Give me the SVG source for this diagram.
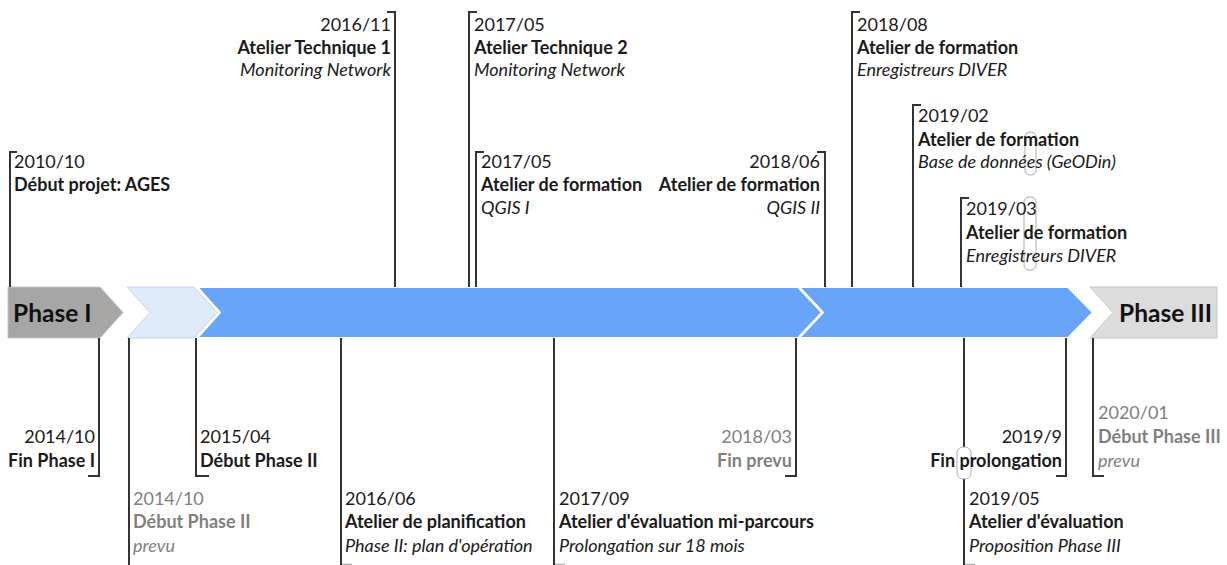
<svg xmlns="http://www.w3.org/2000/svg" width="1227" height="565" viewBox="0 0 1227 565">
<style>
text{font-family:Lato,"Open Sans","Liberation Sans",sans-serif;font-size:18px;fill:#1a1a1a}
.b{font-weight:bold}
.i{font-style:italic}
.g{fill:#7f7f7f}
.e{text-anchor:end}
.ph{font-weight:bold;font-size:24.5px;fill:#111}
.ln{fill:none;stroke:#333;stroke-width:2}
.tk{fill:none;stroke:#aaa;stroke-width:1.5}
.hop{fill:#fff;stroke:#999;stroke-width:0.8}
.hop2{fill:none;stroke:#999;stroke-width:0.8}
</style>
<rect width="1227" height="565" fill="#fff"/>
<g id="band">
<path id="phase1" d="M8,287 L100,287 L123,312.5 L100,338 L8,338 Z" fill="#a6a6a6" stroke="#c4c4c4" stroke-width="1"/>
<path id="phase2-prevu" d="M127,287 L194,287 L217,312.5 L194,338 L127,338 L150,312.5 Z" fill="#dfeafb" stroke="#c5d3ea" stroke-width="1"/>
<path id="phase2" d="M197,287 L798,287 L822,312.5 L798,338 L197,338 L220,312.5 Z" fill="#68a5f8" stroke="#fff" stroke-width="2"/>
<path id="prolongation" d="M799,287 L1068,287 L1093,312.5 L1068,338 L799,338 L823,312.5 Z" fill="#68a5f8" stroke="#fff" stroke-width="2"/>
<path id="phase3" d="M1090,287 L1217,287 L1217,338 L1090,338 L1113,312.5 Z" fill="#dcdcdc" stroke="#c6c6c6" stroke-width="1"/>
<text class="ph" x="13" y="322">Phase I</text>
<text class="ph e" x="1212" y="322">Phase III</text>
</g>
<g id="connectors">
<path class="ln" d="M10,287 V152 H17"/>
<path class="ln" d="M395,287 V12 H387"/>
<path class="ln" d="M469,287 V12 H477"/>
<path class="ln" d="M476,287 V152 H484"/>
<path class="ln" d="M825,287 V152 H817"/>
<path class="ln" d="M852,287 V12 H860"/>
<path class="ln" d="M913,287 V105 H921"/>
<path class="ln" d="M961,287 V198 H969"/>
<path class="ln" d="M99,338 V476 H88"/>
<path class="ln" d="M129,338 V566"/>
<path class="ln" d="M196,338 V476 H209"/>
<path class="ln" d="M341,338 V566"/>
<path class="ln" d="M554,338 V566"/>
<path class="ln" d="M796,338 V476 H785"/>
<path class="ln" d="M964,338 V566"/>
<path class="ln" d="M1066,338 V476 H1056"/>
<path class="ln" d="M1093,338 V476 H1104"/>
<path class="tk" d="M342,564.5 H352 M555,564.5 H565 M965,564.5 H975"/>
<rect class="hop" x="957" y="447" width="14" height="32" rx="6"/>
<rect class="hop2" x="1025" y="132" width="11" height="43" rx="5"/>
<rect class="hop2" x="1024" y="197" width="12" height="73" rx="5"/>
</g>
<g id="ev-2010-10"><text x="14" y="168">2010/10</text><text class="b" x="14" y="191">Début projet: AGES</text></g>
<g id="ev-2016-11"><text class="e" x="391" y="31">2016/11</text><text class="b e" x="391" y="54">Atelier Technique 1</text><text class="i e" x="391" y="76">Monitoring Network</text></g>
<g id="ev-2017-05a"><text x="474" y="31">2017/05</text><text class="b" x="474" y="54">Atelier Technique 2</text><text class="i" x="474" y="76">Monitoring Network</text></g>
<g id="ev-2017-05b"><text x="481" y="168">2017/05</text><text class="b" x="481" y="191">Atelier de formation</text><text class="i" x="481" y="214">QGIS I</text></g>
<g id="ev-2018-06"><text class="e" x="820" y="168">2018/06</text><text class="b e" x="820" y="191">Atelier de formation</text><text class="i e" x="820" y="214">QGIS II</text></g>
<g id="ev-2018-08"><text x="857" y="31">2018/08</text><text class="b" x="857" y="54">Atelier de formation</text><text class="i" x="857" y="76">Enregistreurs DIVER</text></g>
<g id="ev-2019-02"><text x="918" y="122">2019/02</text><text class="b" x="918" y="146">Atelier de formation</text><text class="i" x="918" y="168">Base de données (GeODin)</text></g>
<g id="ev-2019-03"><text x="966" y="215">2019/03</text><text class="b" x="966" y="239">Atelier de formation</text><text class="i" x="966" y="262">Enregistreurs DIVER</text></g>
<g id="ev-2014-10a"><text class="e" x="95" y="443">2014/10</text><text class="b e" x="95" y="467">Fin Phase I</text></g>
<g id="ev-2014-10b"><text class="g" x="133" y="505">2014/10</text><text class="b g" x="133" y="528">Début Phase II</text><text class="i g" x="133" y="552">prevu</text></g>
<g id="ev-2015-04"><text x="200" y="443">2015/04</text><text class="b" x="200" y="467">Début Phase II</text></g>
<g id="ev-2016-06"><text x="345" y="505">2016/06</text><text class="b" x="345" y="528">Atelier de planification</text><text class="i" x="345" y="552">Phase II: plan d'opération</text></g>
<g id="ev-2017-09"><text x="559" y="505">2017/09</text><text class="b" x="559" y="528">Atelier d'évaluation mi-parcours</text><text class="i" x="559" y="552">Prolongation sur 18 mois</text></g>
<g id="ev-2018-03"><text class="e g" x="792" y="443">2018/03</text><text class="b e g" x="792" y="467">Fin prevu</text></g>
<g id="ev-2019-05"><text x="969" y="505">2019/05</text><text class="b" x="969" y="528">Atelier d'évaluation</text><text class="i" x="969" y="552">Proposition Phase III</text></g>
<g id="ev-2019-9"><text class="e" x="1062" y="443">2019/9</text><text class="b e" x="1062" y="467">Fin prolongation</text></g>
<g id="ev-2020-01"><text class="g" x="1098" y="419">2020/01</text><text class="b g" x="1098" y="443">Début Phase III</text><text class="i g" x="1098" y="467">prevu</text></g>
</svg>
